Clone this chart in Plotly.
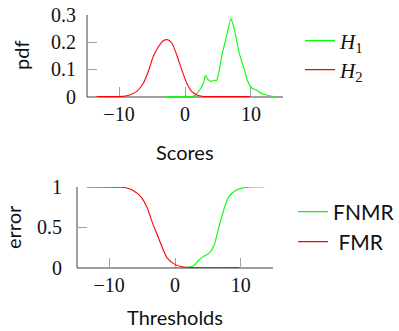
import plotly.graph_objects as go

# ---- data ----
h1_x = [-2.9, 1.0, 1.5, 2.27, 2.8, 3.1, 3.5, 3.9, 4.4, 4.8, 5.2, 5.55, 5.9, 6.4, 6.95, 7.2, 7.6, 8.1, 8.6, 9.0, 9.45, 10.1, 10.9, 11.6, 12.6, 13.5]
h1_y = [0, 0, 0.004, 0.026, 0.05, 0.077, 0.062, 0.056, 0.06, 0.06, 0.099, 0.148, 0.184, 0.233, 0.287, 0.272, 0.233, 0.172, 0.129, 0.099, 0.06, 0.032, 0.023, 0.011, 0.004, 0]

h2_x = [-13.4, -10.0, -9.0, -8.3, -7.3, -6.3, -5.55, -4.8, -4.0, -3.3, -2.6, -2.0, -1.26, -0.5, 0.26, 1.0, 1.8, 2.6, 3.5, 9.9]
h2_y = [0, 0, 0.002, 0.007, 0.019, 0.05, 0.093, 0.148, 0.184, 0.205, 0.209, 0.197, 0.154, 0.099, 0.05, 0.019, 0.006, 0.001, 0, 0]

fnmr_x = [-2.9, 1.5, 2.0, 2.65, 3.2, 3.66, 4.4, 5.2, 5.95, 6.7, 7.5, 8.2, 9.27, 10.8, 12.0, 13.6]
fnmr_y = [0, 0, 0.003, 0.016, 0.05, 0.1, 0.14, 0.18, 0.28, 0.51, 0.74, 0.88, 0.96, 0.995, 1.0, 1.0]

fmr_x = [-13.4, -8.0, -7.2, -6.5, -5.2, -4.2, -3.5, -2.7, -1.9, -1.2, -0.15, 1.1, 2.5, 9.8]
fmr_y = [1, 0.996, 0.985, 0.963, 0.88, 0.737, 0.57, 0.407, 0.243, 0.12, 0.046, 0.009, 0, 0]

x_ticks = [-10, 0, 10]
pdf_ticks = [0, 0.1, 0.2, 0.3]
pdf_ticklabels = ["0", "0.1", "0.2", "0.3"]
err_ticks = [0, 0.5, 1]
err_ticklabels = ["0", "0.5", "1"]

W, H = 399, 331
GREEN = "#00ff00"
RED = "#ff0000"
SERIF = "Liberation Serif"
SANS = "Lato"

def px(x):
    return x / W

def py(y):
    return 1 - y / H

fig = go.Figure()
line_common = dict(width=1.1)
fig.add_trace(go.Scatter(x=h1_x, y=h1_y, mode="lines", name="<i>H</i><sub>1</sub>",
                         line=dict(color=GREEN, shape="spline", smoothing=0.6, **line_common),
                         xaxis="x", yaxis="y", legend="legend"))
fig.add_trace(go.Scatter(x=h2_x, y=h2_y, mode="lines", name="<i>H</i><sub>2</sub>",
                         line=dict(color=RED, shape="spline", smoothing=0.6, **line_common),
                         xaxis="x", yaxis="y", legend="legend2"))
fig.add_trace(go.Scatter(x=fnmr_x, y=fnmr_y, mode="lines", name="FNMR",
                         line=dict(color=GREEN, shape="spline", smoothing=0.6, **line_common),
                         xaxis="x2", yaxis="y2", legend="legend3"))
fig.add_trace(go.Scatter(x=fmr_x, y=fmr_y, mode="lines", name="\u00a0FMR",
                         line=dict(color=RED, shape="spline", smoothing=0.6, **line_common),
                         xaxis="x2", yaxis="y2", legend="legend4"))

axis_common = dict(showgrid=False, zeroline=False, showline=False, ticks="inside",
                   ticklen=10, tickwidth=1, tickcolor="#a0a0a0",
                   tickfont=dict(family=SERIF, size=20, color="#111"), layer="below traces")

def leg(x, y, family, size):
    return dict(x=px(x), y=py(y), xanchor="left", yanchor="middle",
                font=dict(family=family, size=size, color="#111"),
                bgcolor="rgba(0,0,0,0)", borderwidth=0)

fig.update_layout(
    width=W, height=H, margin=dict(l=0, r=0, t=0, b=0, autoexpand=False),
    paper_bgcolor="white", plot_bgcolor="white", showlegend=True,
    xaxis=dict(domain=[px(87), px(283)], range=[-14.85, 14.85], anchor="y",
               tickvals=x_ticks, ticklabelstandoff=3, **axis_common),
    yaxis=dict(domain=[py(97), py(15)], range=[-0.0015, 0.3], anchor="x",
               tickvals=pdf_ticks, ticktext=pdf_ticklabels, ticklabelstandoff=10, **axis_common),
    xaxis2=dict(domain=[px(77), px(273)], range=[-14.9, 14.9], anchor="y2",
                tickvals=x_ticks, ticklabelstandoff=3, **axis_common),
    yaxis2=dict(domain=[py(268), py(187)], range=[-0.005, 1.0], anchor="x2",
                tickvals=err_ticks, ticktext=err_ticklabels, ticklabelstandoff=14, **axis_common),
    legend=leg(300, 41, SERIF, 21),
    legend2=leg(300, 70, SERIF, 21),
    legend3=leg(293, 212, SANS, 21),
    legend4=leg(293, 242, SANS, 21),
)

# axis lines (drawn as shapes in axis domain coordinates)
for xr, yr in (("x", "y"), ("x2", "y2")):
    fig.add_shape(type="line", xref=xr + " domain", yref=yr + " domain", x0=0, x1=1, y0=0, y1=0,
                  line=dict(color="#404040", width=1), layer="below")
    fig.add_shape(type="line", xref=xr + " domain", yref=yr + " domain", x0=0, x1=0, y0=0, y1=1,
                  line=dict(color="#404040", width=1), layer="below")

titles = [
    ("pdf", 21, 56, -90, "middle"),
    ("Scores", 185, 152, 0, "middle"),
    ("error", 13, 227, -90, "middle"),
    ("Thresholds", 175, 331, 0, "bottom"),
]
for text, x, y, ang, ya in titles:
    fig.add_annotation(text=text, x=px(x), y=py(y), xref="paper", yref="paper",
                       xanchor="center", yanchor=ya, showarrow=False, textangle=ang,
                       font=dict(family=SANS, size=20, color="#111"))

fig.write_html("out.html", config={"displayModeBar": False},
               post_script="document.body.style.margin='0';document.body.style.padding='0';"
                           "document.body.style.overflow='hidden';")
